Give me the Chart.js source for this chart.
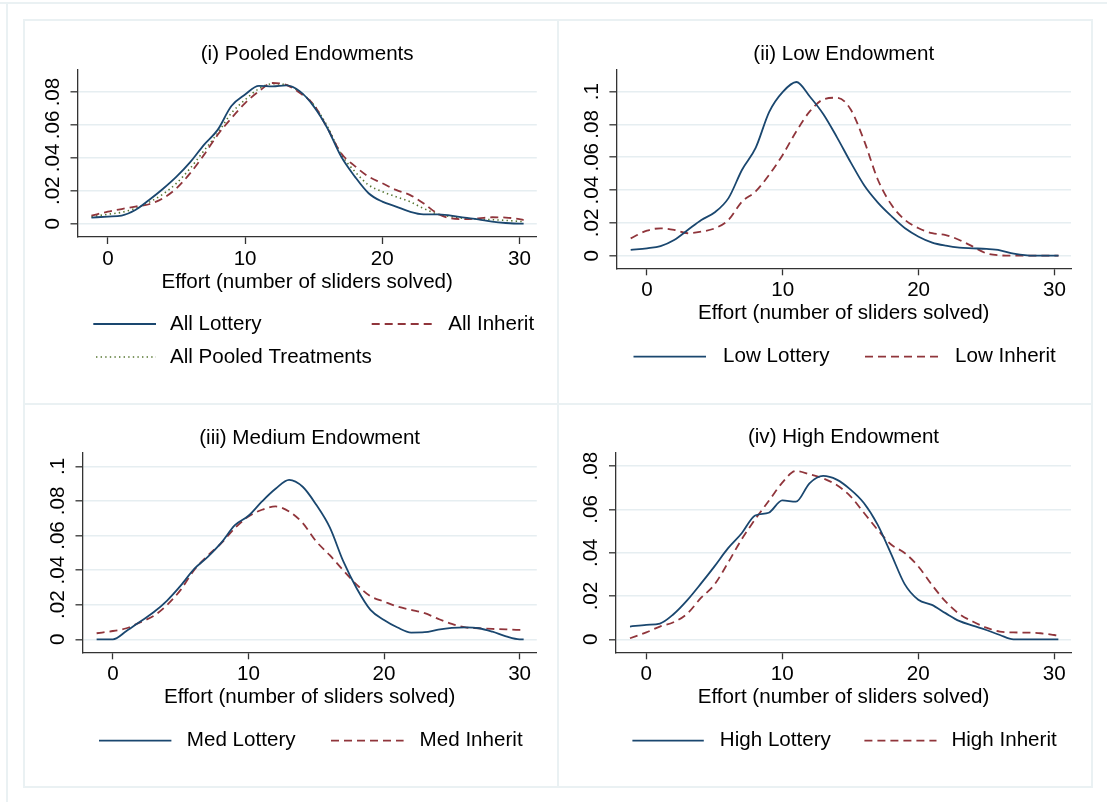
<!DOCTYPE html>
<html><head><meta charset="utf-8">
<script src="https://cdn.jsdelivr.net/npm/chart.js@4.4.0/dist/chart.umd.min.js"></script>
<style>
html,body{margin:0;padding:0;background:#fff;}
body{width:1107px;height:802px;position:relative;overflow:hidden;}
.ln{position:absolute;background:#eaf1f3;}
canvas{position:absolute;}
</style></head><body>
<div class="ln" style="left:0;top:2px;width:1107px;height:2px"></div>
<div class="ln" style="left:6px;top:2px;width:2px;height:800px"></div>
<div class="ln" style="left:23px;top:19px;width:2px;height:769px"></div>
<div class="ln" style="left:557px;top:19px;width:2px;height:769px"></div>
<div class="ln" style="left:1091px;top:19px;width:2px;height:769px"></div>
<div class="ln" style="left:23px;top:19px;width:1070px;height:2px"></div>
<div class="ln" style="left:23px;top:403px;width:1070px;height:2px"></div>
<div class="ln" style="left:23px;top:786px;width:1070px;height:2px"></div>
<canvas id="c1" width="534" height="384" style="left:24px;top:20px;width:534px;height:384px"></canvas>
<canvas id="c2" width="534" height="384" style="left:558px;top:20px;width:534px;height:384px"></canvas>
<canvas id="c3" width="534" height="383" style="left:24px;top:404px;width:534px;height:383px"></canvas>
<canvas id="c4" width="534" height="383" style="left:558px;top:404px;width:534px;height:383px"></canvas>
<script>
// ---- data ----
const effortGrid = [-1.2,0,1,2,3,4,5,6,7,8,9,10,11,12,13,14,15,16,17,18,19,20,21,22,23,24,25,26,27,28,29,30,30.3];
const xTickValues = [0,10,20,30];
const yTicks08 = [0,0.02,0.04,0.06,0.08];
const yTicks10 = [0,0.02,0.04,0.06,0.08,0.1];

const allLottery = [.0037,.0043,.0049,.0083,.0144,.0211,.0286,.0374,.0479,.057,.0715,.0785,.0838,.0834,.084,.0804,.0713,.058,.0408,.0286,.0185,.0134,.0104,.0073,.0057,.0057,.0049,.0037,.0026,.0012,.0004,0,0];
const allInherit = [.0049,.0073,.0089,.0104,.0118,.0154,.0215,.0307,.0418,.054,.0641,.0733,.0804,.0855,.0844,.0794,.0723,.058,.0428,.035,.0286,.0246,.0205,.0175,.0124,.0063,.0032,.0028,.0032,.0039,.0037,.0028,.0022];
const allPooled = [.0043,.0057,.0069,.0093,.013,.0179,.0246,.0337,.0443,.055,.0672,.0753,.082,.085,.0844,.08,.0723,.0591,.0422,.0317,.0235,.0195,.0164,.0134,.0093,.0059,.0043,.0032,.0028,.0024,.002,.0014,.0012];

const lowLottery = [.0035,.0045,.0059,.0096,.0157,.0218,.0265,.0351,.0524,.0657,.0877,.0999,.1059,.0969,.0861,.072,.0569,.0428,.0324,.0241,.0167,.0116,.008,.0061,.0049,.0045,.0041,.0033,.0012,.0002,0,0,0];
const lowInherit = [.0106,.0153,.0167,.0157,.0137,.0147,.0167,.0218,.033,.0392,.0494,.0616,.0759,.0881,.0953,.0963,.0891,.0698,.0463,.031,.0218,.0167,.0137,.0126,.0096,.0055,.0014,.0002,0,0,0,0,0];

const medLottery = [0,0,.0048,.0102,.0156,.0224,.031,.0407,.0477,.0559,.066,.0714,.0797,.087,.0922,.0882,.0778,.0647,.045,.0292,.017,.0112,.0068,.0039,.0041,.0056,.0066,.0069,.0064,.0044,.0017,0,0];
const medInherit = [.0035,.0048,.0064,.0098,.0135,.0199,.0286,.0401,.0484,.0556,.0643,.071,.0749,.0768,.0739,.0672,.0566,.0486,.0398,.0315,.0249,.0218,.0189,.017,.0151,.0118,.0089,.0069,.0064,.006,.0058,.0054,.0052];

const highLottery = [.0059,.0067,.0073,.0116,.018,.0256,.0336,.042,.0489,.0572,.0585,.0642,.0636,.0721,.0755,.0738,.0693,.063,.0531,.0395,.0255,.0183,.0159,.0121,.0085,.0063,.0043,.002,0,0,0,0,0];
const highInherit = [.0005,.0032,.0059,.0079,.0118,.019,.0252,.0353,.0461,.0554,.0639,.0724,.0778,.0763,.0744,.0713,.0662,.0585,.0507,.0438,.0399,.0337,.0252,.0175,.0118,.0082,.0054,.0036,.0032,.0031,.0028,.002,.0017];

const titles = ['(i) Pooled Endowments','(ii) Low Endowment','(iii) Medium Endowment','(iv) High Endowment'];
const xAxisTitle = 'Effort (number of sliders solved)';

// ---- styles ----
const FONT = '"Liberation Sans", Arial, Helvetica, sans-serif';
const FS = 20.6;
const NAVY = '#1a476f', MAROON = '#90353b', GREEN = '#55752f';
const solid = (label, data) => ({label, data, c: NAVY, dash: [], w: 1.8});
const dashed = (label, data) => ({label, data, c: MAROON, dash: [8,5], w: 1.8});
const dotted = (label, data) => ({label, data, c: GREEN, dash: [1.4,3.2], w: 1.6});

const panelTitlePlugin = {
  id: 'panelDecor',
  afterDraw(chart, args, opts) {
    const ctx = chart.ctx, a = chart.chartArea;
    ctx.save();
    ctx.font = FS + 'px ' + FONT;
    ctx.fillStyle = '#000';
    ctx.textBaseline = 'middle';
    ctx.textAlign = 'center';
    ctx.fillText(opts.title, (a.left + a.right) / 2, opts.titleY);
    ctx.textAlign = 'left';
    chart.data.datasets.forEach((ds, i) => {
      const p = opts.legend[i];
      ctx.save();
      ctx.strokeStyle = ds.borderColor;
      ctx.lineWidth = ds.borderWidth;
      ctx.setLineDash(ds.borderDash || []);
      ctx.beginPath();
      ctx.moveTo(p[0], p[3]);
      ctx.lineTo(p[1], p[3]);
      ctx.stroke();
      ctx.restore();
      ctx.fillText(ds.label, p[2], p[3]);
    });
    ctx.restore();
  }
};

function makePanel(id, series, yTickVals, yMin, yMax, xMin, xMax, area, title, titleY, legend) {
  const cv = document.getElementById(id);
  const W = cv.width, H = cv.height, XH = 57.3;
  new Chart(cv, {
    type: 'line',
    data: {
      datasets: series.map(s => ({
        label: s.label,
        data: effortGrid.map((x, i) => ({x, y: s.data[i]})),
        borderColor: s.c, borderWidth: s.w, borderDash: s.dash,
        pointRadius: 0, fill: false, cubicInterpolationMode: 'monotone'
      }))
    },
    options: {
      responsive: false, animation: false, devicePixelRatio: 1,
      layout: {padding: {left: 0, top: area.top, right: W - area.right, bottom: H - area.bottom - XH}},
      plugins: {legend: {display: false}, tooltip: {enabled: false},
        panelDecor: {title, titleY, legend}},
      scales: {
        x: {
          type: 'linear', min: xMin, max: xMax,
          afterBuildTicks: s => { s.ticks = xTickValues.map(v => ({value: v})); },
          afterFit: s => { s.height = XH; },
          grid: {drawOnChartArea: false, drawTicks: true, tickLength: 7, tickColor: '#333', tickWidth: 1.3},
          border: {display: true, color: '#333', width: 1.3},
          ticks: {color: '#000', font: {family: FONT, size: FS}, padding: 3, maxRotation: 0, autoSkip: false},
          title: {display: true, text: xAxisTitle, color: '#000', font: {family: FONT, size: FS}, padding: {top: 0, bottom: 0}}
        },
        y: {
          type: 'linear', min: yMin, max: yMax,
          afterBuildTicks: s => { s.ticks = yTickVals.map(v => ({value: v})); },
          afterFit: s => { s.width = area.left; },
          grid: {color: '#e6eef1', lineWidth: 1.6, drawTicks: true, tickLength: 7, tickColor: '#333', tickWidth: 1.3},
          border: {display: true, color: '#333', width: 1.3},
          ticks: {color: '#000', font: {family: FONT, size: FS}, padding: 3, minRotation: 90, maxRotation: 90,
            crossAlign: 'center', autoSkip: false,
            callback: v => v === 0 ? '0' : String(+v.toFixed(2)).replace(/^0\./, '.')}
        }
      }
    },
    plugins: [panelTitlePlugin]
  });
}

makePanel('c1',
  [solid('All Lottery', allLottery), dashed('All Inherit', allInherit), dotted('All Pooled Treatments', allPooled)],
  yTicks08, -0.0081, 0.0934, -2.216, 31.26,
  {left: 53.5, right: 512.8, top: 50, bottom: 217}, titles[0], 34,
  [[69.3, 132, 146, 304], [347.7, 407.7, 424.3, 304], [72, 132, 146, 337]]);
makePanel('c2',
  [solid('Low Lottery', lowLottery), dashed('Low Inherit', lowInherit)],
  yTicks10, -0.00768, 0.1132, -2.253, 31.22,
  {left: 58.4, right: 513, top: 50, bottom: 248.3}, titles[1], 34,
  [[75.5, 148, 165, 336.7], [307, 381, 397, 336.7]]);
makePanel('c3',
  [solid('Med Lottery', medLottery), dashed('Med Inherit', medInherit)],
  yTicks10, -0.00751, 0.1077, -2.242, 31.27,
  {left: 58.5, right: 512.8, top: 49, bottom: 248.3}, titles[2], 34.3,
  [[75, 147.4, 162.8, 336.7], [307, 379.6, 395.6, 336.7]]);
makePanel('c4',
  [solid('High Lottery', highLottery), dashed('High Inherit', highInherit)],
  yTicks08, -0.006, 0.0861, -2.228, 31.23,
  {left: 58, right: 513, top: 49, bottom: 248.3}, titles[3], 33.5,
  [[74.4, 145.8, 161.8, 336.7], [306.4, 378.5, 393.4, 336.7]]);
</script>
</body></html>
